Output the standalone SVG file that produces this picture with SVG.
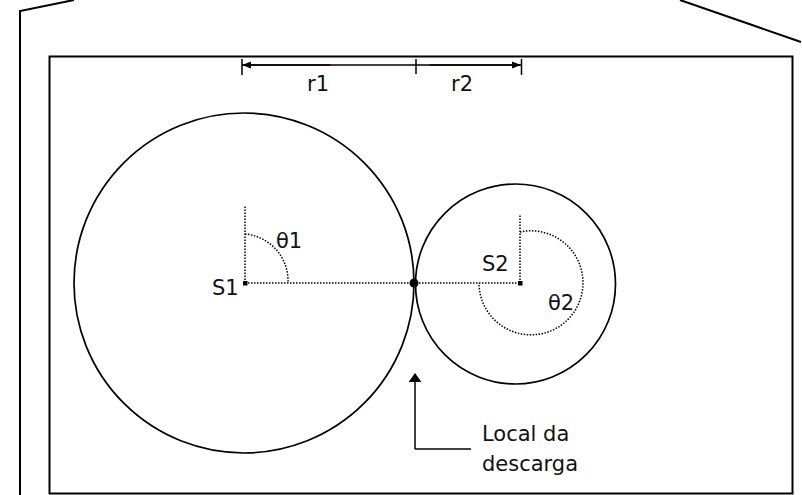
<svg xmlns="http://www.w3.org/2000/svg" width="802" height="495" viewBox="0 0 802 495">
<defs>
<style>
.frame{fill:none;stroke:#000;stroke-width:2}
.circ{fill:none;stroke:#000;stroke-width:1.7}
.dot{fill:none;stroke:#000;stroke-width:1.5;stroke-dasharray:1.5 1.5}
.ln{fill:none;stroke:#000;stroke-width:1.5}
.lbl{font-family:"DejaVu Sans",sans-serif;font-size:21px;fill:#111}
</style>
<marker id="ah" viewBox="0 0 10 10" refX="9" refY="5" markerWidth="9" markerHeight="9" markerUnits="userSpaceOnUse" orient="auto">
<path d="M0,1 L10,5 L0,9 Z" fill="#000"/>
</marker>
<marker id="ahBig" viewBox="0 0 10 10" refX="9" refY="5" markerWidth="9" markerHeight="13" markerUnits="userSpaceOnUse" orient="auto" preserveAspectRatio="none">
<path d="M0,0 L10,5 L0,10 Z" fill="#000"/>
</marker>
</defs>
<rect width="802" height="495" fill="#fff"/>
<g id="outline">
<path class="frame" d="M20,496 L20,11 L74,0"/>
<path class="frame" d="M680,0 L801,42"/>
<rect class="frame" x="49.5" y="56.5" width="743" height="437"/>
</g>
<g id="circle1">
<circle class="circ" cx="244" cy="283" r="170"/>
</g>
<g id="circle2">
<circle class="circ" cx="515.5" cy="284" r="100"/>
</g>
<g id="connectors">
<line class="dot" x1="245" y1="283" x2="520" y2="283"/>
<line class="dot" x1="245" y1="283" x2="245" y2="205"/>
<path class="dot" d="M245,234 A47,47 0 0 1 288,283"/>
<line class="dot" x1="520" y1="283" x2="520" y2="215"/>
<path class="dot" d="M520,232 A52,52 0 1 1 479,283"/>
<line class="ln" x1="415" y1="449" x2="471" y2="449"/>
<line class="ln" x1="415" y1="449" x2="415" y2="374" marker-end="url(#ahBig)"/>
<line class="ln" x1="242" y1="65" x2="521" y2="65"/>
<line class="ln" x1="330" y1="65" x2="243" y2="65" marker-end="url(#ah)"/>
<line class="ln" x1="430" y1="65" x2="520" y2="65" marker-end="url(#ah)"/>
<line class="ln" x1="242" y1="59" x2="242" y2="75"/>
<line class="ln" x1="416" y1="59" x2="416" y2="74"/>
<line class="ln" x1="521.5" y1="59" x2="521.5" y2="75"/>
</g>
<g id="S1">
<rect x="243" y="281" width="4.5" height="4.5" fill="#000"/>
<text class="lbl" x="212" y="295">S1</text>
</g>
<g id="S2">
<rect x="518" y="281" width="4.5" height="4.5" fill="#000"/>
<text class="lbl" x="482" y="271">S2</text>
</g>
<g id="contact">
<circle cx="414" cy="283" r="4.5" fill="#000"/>
</g>
<g id="labels">
<text class="lbl" x="307" y="91">r1</text>
<text class="lbl" x="451" y="91">r2</text>
<text class="lbl" x="276" y="248">θ1</text>
<text class="lbl" x="548" y="310">θ2</text>
<text class="lbl" x="482" y="441">Local da</text>
<text class="lbl" x="482" y="471">descarga</text>
</g>
</svg>
